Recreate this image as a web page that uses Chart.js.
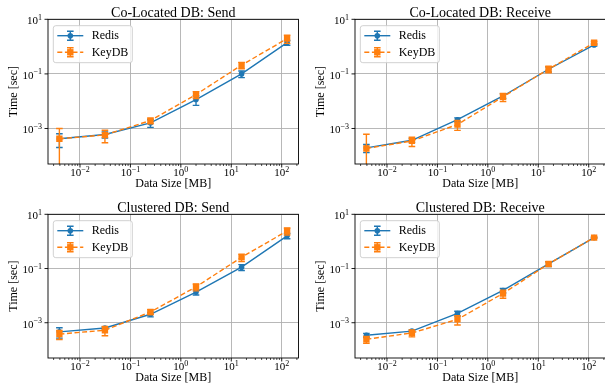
<!DOCTYPE html>
<html><head><meta charset="utf-8">
<script src="https://cdn.jsdelivr.net/npm/chart.js@4.4.1/dist/chart.umd.min.js"></script>
<style>
html,body{margin:0;padding:0;background:#fff;overflow:hidden;width:605px;height:392px;position:relative;}
canvas{position:absolute;}
</style></head><body>
<canvas id="c0" width="303" height="196" style="left:0px;top:0px;width:303px;height:196px"></canvas>
<canvas id="c1" width="303" height="196" style="left:307px;top:0px;width:303px;height:196px"></canvas>
<canvas id="c2" width="303" height="196" style="left:0px;top:195px;width:303px;height:196px"></canvas>
<canvas id="c3" width="303" height="196" style="left:307px;top:195px;width:303px;height:196px"></canvas>
<script>
// ---------- data ----------
const SIZES_MB = [0.00390625, 0.03125, 0.25, 2, 16, 128];
const X_TICKS = [1e-2, 1e-1, 1, 10, 100];
const Y_TICKS = [1e-3, 1e-1, 10];
const SERIES_NAMES = ['Redis', 'KeyDB'];
const PANEL_TITLES = ['Co-Located DB: Send', 'Co-Located DB: Receive', 'Clustered DB: Send', 'Clustered DB: Receive'];
const X_LABEL = 'Data Size [MB]';
const Y_LABEL = 'Time [sec]';

const colSendRedis    = [4.2e-4, 6.0e-4, 1.6e-3, 0.0115, 0.100, 1.40];
const colSendRedisErr = [2.2e-4, 1.5e-4, 0.5e-3, 0.0045, 0.027, 0.28];
const colSendKeyDB    = [4.2e-4, 5.8e-4, 1.95e-3, 0.0175, 0.21, 1.96];
const colSendKeyDBErr = [5.8e-4, 2.8e-4, 0.45e-3, 0.005, 0.055, 0.65];

const colRecvRedis    = [1.95e-4, 3.7e-4, 2.1e-3, 0.0155, 0.148, 1.15];
const colRecvRedisErr = [6.5e-5, 6e-5, 0.35e-3, 0.003, 0.03, 0.1];
const colRecvKeyDB    = [1.85e-4, 3.5e-4, 1.4e-3, 0.0145, 0.15, 1.38];
const colRecvKeyDBErr = [4.3e-4, 1.3e-4, 0.55e-3, 0.0047, 0.04, 0.15];

const cluSendRedis    = [4.6e-4, 6.4e-4, 2.05e-3, 0.0135, 0.112, 1.6];
const cluSendRedisErr = [1.9e-4, 0.7e-4, 0.4e-3, 0.003, 0.027, 0.35];
const cluSendKeyDB    = [3.8e-4, 5.3e-4, 2.5e-3, 0.021, 0.26, 2.43];
const cluSendKeyDBErr = [1.4e-4, 2e-4, 0.5e-3, 0.006, 0.08, 0.7];

const cluRecvRedis    = [3.45e-4, 4.9e-4, 2.2e-3, 0.0155, 0.148, 1.38];
const cluRecvRedisErr = [0.6e-4, 0.5e-4, 0.45e-3, 0.003, 0.03, 0.06];
const cluRecvKeyDB    = [2.45e-4, 4.2e-4, 1.33e-3, 0.012, 0.148, 1.38];
const cluRecvKeyDBErr = [0.7e-4, 1.2e-4, 0.5e-3, 0.004, 0.03, 0.06];

// ---------- styling ----------
const FONT = '"Liberation Serif", "DejaVu Serif", serif';
const C_REDIS = '#1f77b4';
const C_KEYDB = '#ff7f0e';
const X_MIN = Math.pow(10, -2.634), X_MAX = Math.pow(10, 2.333);
const Y_MIN = 5e-5, Y_MAX = 10;
const MINUS = '\u2212';

function xMinorTicks() {
  const out = [];
  for (let e = -3; e <= 2; e++) for (let m = 2; m <= 9; m++) {
    const v = m * Math.pow(10, e);
    if (v >= X_MIN && v <= X_MAX) out.push(v);
  }
  return out;
}

function drawPow(ctx, x, y, v, align) {
  const exp = Math.round(Math.log10(v));
  const es = (exp < 0 ? MINUS : '') + Math.abs(exp);
  ctx.font = '11px ' + FONT;
  const bw = ctx.measureText('10').width;
  ctx.font = '8px ' + FONT;
  const ew = ctx.measureText(es).width;
  const total = bw + ew;
  const x0 = align === 'center' ? x - total / 2 : x - total;
  ctx.textAlign = 'left';
  ctx.textBaseline = 'alphabetic';
  ctx.fillStyle = '#000';
  ctx.font = '11px ' + FONT;
  ctx.fillText('10', x0, y);
  ctx.font = '8px ' + FONT;
  ctx.fillText(es, x0 + bw, y - 4.5);
}

function drawMarker(ctx, style, x, y, color) {
  ctx.fillStyle = color;
  ctx.beginPath();
  if (style === 'rect') ctx.rect(x - 3.2, y - 3.2, 6.4, 6.4);
  else ctx.arc(x, y, 2.8, 0, Math.PI * 2);
  ctx.fill();
}

const errorBarPlugin = {
  id: 'errorBars',
  beforeDatasetDraw(chart, args) {
    const ds = chart.data.datasets[args.index];
    if (!ds.errorValues) return;
    const ctx = chart.ctx, a = chart.chartArea;
    const xs = chart.scales.x, ys = chart.scales.y;
    ctx.save();
    ctx.beginPath();
    ctx.rect(a.left, a.top, a.right - a.left, a.bottom - a.top);
    ctx.clip();
    ctx.strokeStyle = ds.borderColor;
    ctx.lineWidth = 1.4;
    ctx.setLineDash([]);
    ds.data.forEach((p, i) => {
      const e = ds.errorValues[i];
      const px = xs.getPixelForValue(p.x);
      const top = ys.getPixelForValue(p.y + e);
      const lo = p.y - e;
      const bot = lo > 0 ? ys.getPixelForValue(lo) : a.bottom + 5;
      ctx.beginPath();
      ctx.moveTo(px, top); ctx.lineTo(px, bot);
      ctx.moveTo(px - 3.3, top); ctx.lineTo(px + 3.3, top);
      if (lo > 0) { ctx.moveTo(px - 3.3, bot); ctx.lineTo(px + 3.3, bot); }
      ctx.stroke();
    });
    ctx.restore();
  }
};

const decorPlugin = {
  id: 'decor',
  afterDraw(chart) {
    const ctx = chart.ctx, a = chart.chartArea;
    const xs = chart.scales.x, ys = chart.scales.y;
    const opts = chart.options.plugins.decor;
    ctx.save();
    // spines
    ctx.strokeStyle = '#000';
    ctx.lineWidth = 0.9;
    ctx.setLineDash([]);
    ctx.strokeRect(a.left, a.top, a.right - a.left, a.bottom - a.top);
    // x ticks
    ctx.beginPath();
    X_TICKS.forEach(v => { const px = xs.getPixelForValue(v); ctx.moveTo(px, a.bottom); ctx.lineTo(px, a.bottom + 3.5); });
    ctx.stroke();
    ctx.lineWidth = 0.7;
    ctx.beginPath();
    xMinorTicks().forEach(v => { const px = xs.getPixelForValue(v); ctx.moveTo(px, a.bottom); ctx.lineTo(px, a.bottom + 2); });
    ctx.stroke();
    ctx.lineWidth = 0.9;
    ctx.beginPath();
    Y_TICKS.forEach(v => { const py = ys.getPixelForValue(v); ctx.moveTo(a.left, py); ctx.lineTo(a.left - 3.5, py); });
    ctx.stroke();
    // tick labels
    X_TICKS.forEach(v => drawPow(ctx, xs.getPixelForValue(v), a.bottom + 12, v, 'center'));
    Y_TICKS.forEach(v => drawPow(ctx, a.left - 6, ys.getPixelForValue(v) + 4.8, v, 'right'));
    // title
    ctx.fillStyle = '#000';
    ctx.font = '14px ' + FONT;
    ctx.textAlign = 'center';
    ctx.textBaseline = 'alphabetic';
    ctx.fillText(opts.title, (a.left + a.right) / 2, a.top - 2.5);
    // x label
    ctx.font = '12px ' + FONT;
    ctx.fillText(X_LABEL, (a.left + a.right) / 2, a.bottom + 23);
    // y label
    ctx.save();
    ctx.translate(14, (a.top + a.bottom) / 2);
    ctx.rotate(-Math.PI / 2);
    ctx.textBaseline = 'middle';
    ctx.fillText(Y_LABEL, 0, 0);
    ctx.restore();
    // legend
    const lx = a.left + 5.3, ly = a.top + 6.4, lw = 79, lh = 37;
    ctx.beginPath();
    ctx.roundRect(lx, ly, lw, lh, 2.5);
    ctx.fillStyle = 'rgba(255,255,255,0.8)';
    ctx.fill();
    ctx.strokeStyle = '#cccccc';
    ctx.lineWidth = 0.9;
    ctx.stroke();
    chart.data.datasets.forEach((ds, i) => {
      const y = ly + 10 + i * 16.6;
      ctx.strokeStyle = ds.borderColor;
      ctx.lineWidth = 1.4;
      ctx.setLineDash(ds.borderDash || []);
      ctx.beginPath(); ctx.moveTo(lx + 4, y); ctx.lineTo(lx + 30, y); ctx.stroke();
      ctx.setLineDash([]);
      const mx = lx + 17;
      ctx.beginPath();
      ctx.moveTo(mx, y - 4.5); ctx.lineTo(mx, y + 4.5);
      ctx.moveTo(mx - 3.3, y - 4.5); ctx.lineTo(mx + 3.3, y - 4.5);
      ctx.moveTo(mx - 3.3, y + 4.5); ctx.lineTo(mx + 3.3, y + 4.5);
      ctx.stroke();
      drawMarker(ctx, ds.pointStyle, mx, y, ds.borderColor);
      ctx.fillStyle = '#000';
      ctx.font = '12px ' + FONT;
      ctx.textAlign = 'left';
      ctx.textBaseline = 'middle';
      ctx.fillText(ds.label, lx + 38.4, y + 0.5);
    });
    ctx.restore();
  }
};

const panels = [
  { id: 'c0', title: PANEL_TITLES[0], r: colSendRedis, re: colSendRedisErr, k: colSendKeyDB, ke: colSendKeyDBErr, padB: 32 },
  { id: 'c1', title: PANEL_TITLES[1], r: colRecvRedis, re: colRecvRedisErr, k: colRecvKeyDB, ke: colRecvKeyDBErr, padB: 32 },
  { id: 'c2', title: PANEL_TITLES[2], r: cluSendRedis, re: cluSendRedisErr, k: cluSendKeyDB, ke: cluSendKeyDBErr, padB: 33 },
  { id: 'c3', title: PANEL_TITLES[3], r: cluRecvRedis, re: cluRecvRedisErr, k: cluRecvKeyDB, ke: cluRecvKeyDBErr, padB: 33 }
];

panels.forEach(p => {
  const toPts = arr => SIZES_MB.map((x, i) => ({ x: x, y: arr[i] }));
  new Chart(document.getElementById(p.id), {
    type: 'line',
    data: {
      datasets: [
        { label: SERIES_NAMES[0], data: toPts(p.r), errorValues: p.re, borderColor: C_REDIS, backgroundColor: C_REDIS,
          borderWidth: 1.4, pointStyle: 'circle', pointRadius: 2.8, pointBorderWidth: 0, pointBackgroundColor: C_REDIS,
          tension: 0, fill: false, order: 1 },
        { label: SERIES_NAMES[1], data: toPts(p.k), errorValues: p.ke, borderColor: C_KEYDB, backgroundColor: C_KEYDB,
          borderWidth: 1.4, borderDash: [5, 2.6], pointStyle: 'rect', pointRadius: 4.5, pointBorderWidth: 0, pointBackgroundColor: C_KEYDB,
          tension: 0, fill: false, order: 0 }
      ]
    },
    options: {
      responsive: false,
      devicePixelRatio: 1,
      animation: false,
      events: [],
      layout: { padding: { left: 48, top: 19.3, right: 3.2, bottom: p.padB } },
      plugins: { legend: { display: false }, title: { display: false }, tooltip: { enabled: false }, decor: { title: p.title } },
      scales: {
        x: {
          type: 'logarithmic', min: X_MIN, max: X_MAX,
          afterBuildTicks: s => { s.ticks = X_TICKS.map(v => ({ value: v })); },
          afterFit: s => { s.height = 0; },
          ticks: { display: false },
          border: { display: false },
          grid: { color: '#b0b0b0', lineWidth: 0.9, drawTicks: false }
        },
        y: {
          type: 'logarithmic', min: Y_MIN, max: Y_MAX,
          afterBuildTicks: s => { s.ticks = Y_TICKS.map(v => ({ value: v })); },
          afterFit: s => { s.width = 0; },
          ticks: { display: false },
          border: { display: false },
          grid: { color: '#b0b0b0', lineWidth: 0.9, drawTicks: false }
        }
      }
    },
    plugins: [errorBarPlugin, decorPlugin]
  });
});
</script>
</body></html>
